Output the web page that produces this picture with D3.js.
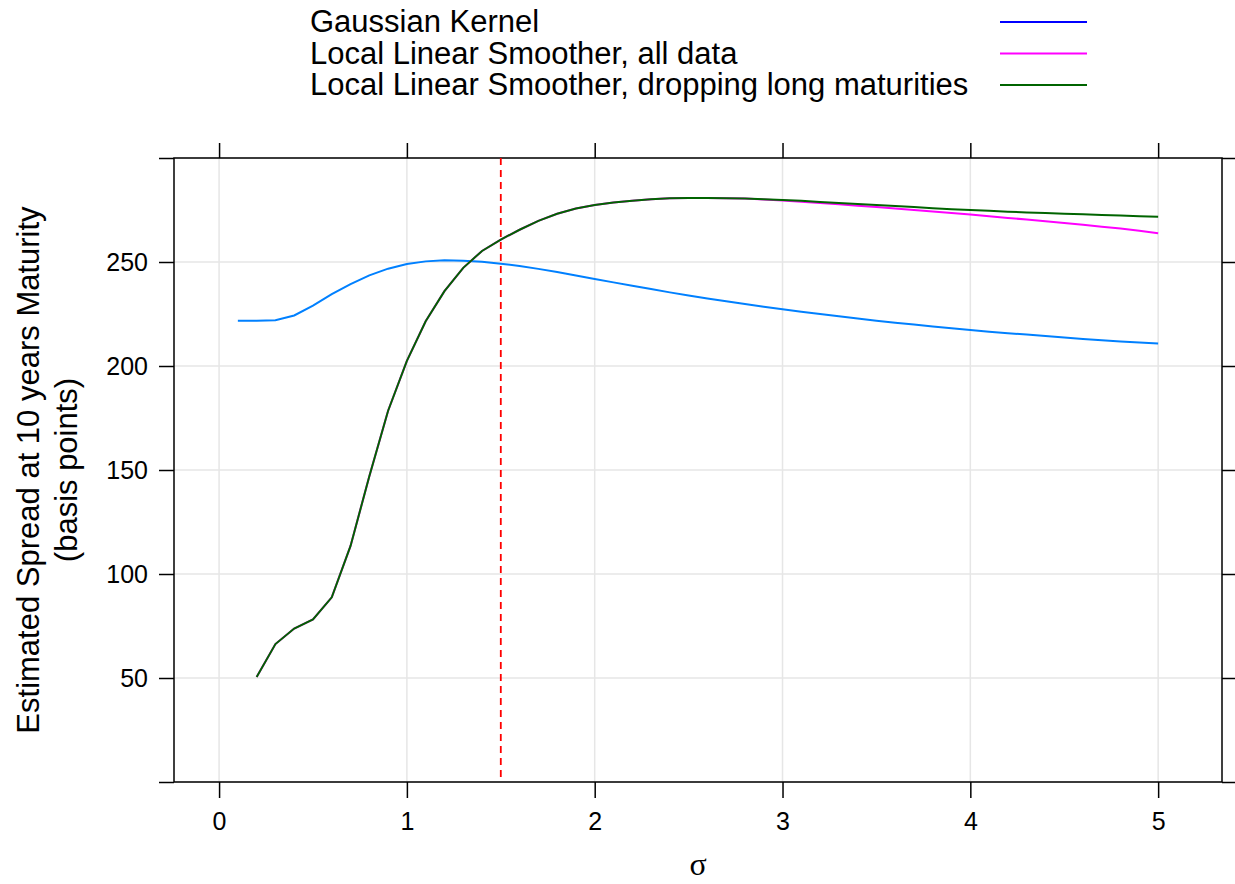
<!DOCTYPE html>
<html>
<head>
<meta charset="utf-8">
<script src="https://cdn.jsdelivr.net/npm/d3@7"></script>
<style>
  body { margin: 0; background: #fff; }
  text { font-family: "Liberation Sans", Arial, sans-serif; }
</style>
</head>
<body>
<div id="chart"></div>
<script>
// sigma grid
var sigmaGauss = d3.range(1, 51).map(d => d / 10);   // 0.1 .. 5.0
var sigmaLocal = d3.range(2, 51).map(d => d / 10);   // 0.2 .. 5.0

var gaussVals = [221.8, 221.8, 222.0, 224.3, 229.0, 234.5, 239.4, 243.6, 246.8, 249.0,
  250.3, 250.8, 250.6, 250.1, 249.2, 248.1, 246.7, 245.2, 243.5, 241.8,
  240.2, 238.6, 237.0, 235.4, 233.9, 232.5, 231.1, 229.8, 228.5, 227.3,
  226.1, 225.0, 223.9, 222.8, 221.8, 220.8, 219.9, 219.0, 218.1, 217.3,
  216.5, 215.8, 215.1, 214.4, 213.7, 213.0, 212.4, 211.8, 211.3, 210.8];

var localAllVals = [50.5, 66.3, 73.8, 78.2, 88.8, 113.5, 147.0, 178.5, 202.5,
  221.5, 236.0, 247.2, 255.3, 260.8, 265.5, 269.8, 273.2, 275.7, 277.4,
  278.6, 279.5, 280.2, 280.6, 280.8, 280.8, 280.7, 280.5, 280.1, 279.6,
  279.0, 278.4, 277.8, 277.1, 276.4, 275.7, 275.0, 274.3, 273.6, 272.8,
  272.0, 271.2, 270.4, 269.6, 268.8, 267.9, 267.0, 266.1, 265.0, 263.8];

var localDropVals = [50.5, 66.3, 73.8, 78.2, 88.8, 113.5, 147.0, 178.5, 202.5,
  221.5, 236.0, 247.2, 255.3, 260.8, 265.5, 269.8, 273.2, 275.7, 277.4,
  278.6, 279.5, 280.2, 280.6, 280.8, 280.8, 280.7, 280.5, 280.2, 279.8,
  279.4, 278.9, 278.4, 277.9, 277.4, 276.9, 276.4, 275.9, 275.4, 275.0,
  274.6, 274.2, 273.8, 273.5, 273.2, 272.9, 272.6, 272.3, 272.0, 271.8];

var seriesNames = ["Gaussian Kernel", "Local Linear Smoother, all data",
  "Local Linear Smoother, dropping long maturities"];
var xTicks = [0, 1, 2, 3, 4, 5];
var yTicks = [0, 50, 100, 150, 200, 250, 300];
var chosenSigma = 1.5;

var svgWidth = 1235;
var svgHeight = 884;

var margin = { top: 158, right: 13, bottom: 102, left: 174 };
var width = svgWidth - margin.left - margin.right;
var height = svgHeight - margin.top - margin.bottom;

var svg = d3.select("#chart")
  .append("svg")
  .attr("width", svgWidth)
  .attr("height", svgHeight);

var chartGroup = svg.append("g")
  .attr("transform", `translate(${margin.left}, ${margin.top})`);

var xLinearScale = d3.scaleLinear().domain([-0.24, 5.34]).range([0, width]);
var yLinearScale = d3.scaleLinear().domain([0, 300]).range([height, 0]);

// grid
chartGroup.append("g").selectAll("line.vg")
  .data(xTicks).enter().append("line")
  .attr("x1", d => xLinearScale(d)).attr("x2", d => xLinearScale(d))
  .attr("y1", 0).attr("y2", height)
  .attr("stroke", "#e6e6e6").attr("stroke-width", 1.5);

chartGroup.append("g").selectAll("line.hg")
  .data(yTicks).enter().append("line")
  .attr("x1", 0).attr("x2", width)
  .attr("y1", d => yLinearScale(d)).attr("y2", d => yLinearScale(d))
  .attr("stroke", "#e6e6e6").attr("stroke-width", 1.5);

// axes (ticks on all four sides, labels only bottom and left)
var fmtY = d => (d === 0 || d === 300) ? "" : d;

function styleAxis(g) {
  g.select(".domain").remove();
  g.selectAll(".tick line").attr("stroke", "#000").attr("stroke-width", 1.5);
  g.selectAll(".tick text").attr("fill", "#000").style("font-size", "25px");
}

chartGroup.append("g")
  .attr("transform", `translate(0, ${height})`)
  .call(d3.axisBottom(xLinearScale).tickValues(xTicks).tickSize(16).tickPadding(14).tickFormat(d3.format("d")))
  .call(styleAxis);

chartGroup.append("g")
  .call(d3.axisTop(xLinearScale).tickValues(xTicks).tickSize(15).tickFormat(""))
  .call(styleAxis);

chartGroup.append("g")
  .call(d3.axisLeft(yLinearScale).tickValues(yTicks).tickSize(15).tickPadding(11).tickFormat(fmtY))
  .call(styleAxis);

chartGroup.append("g")
  .attr("transform", `translate(${width}, 0)`)
  .call(d3.axisRight(yLinearScale).tickValues(yTicks).tickSize(13).tickFormat(""))
  .call(styleAxis);

// frame
chartGroup.append("rect")
  .attr("width", width).attr("height", height)
  .attr("fill", "none").attr("stroke", "#000").attr("stroke-width", 1.5);

// curves
var line = d3.line()
  .x(d => xLinearScale(d[0]))
  .y(d => yLinearScale(d[1]));

var curves = [
  { xs: sigmaGauss, ys: gaussVals, color: "#0080ff" },
  { xs: sigmaLocal, ys: localAllVals, color: "#ff00ff" },
  { xs: sigmaLocal, ys: localDropVals, color: "#006400" }
];

curves.forEach(function(c) {
  chartGroup.append("path")
    .datum(c.xs.map((x, i) => [x, c.ys[i]]))
    .attr("d", line)
    .attr("fill", "none")
    .attr("stroke", c.color)
    .attr("stroke-width", 2);
});

// chosen bandwidth
chartGroup.append("line")
  .attr("x1", xLinearScale(chosenSigma)).attr("x2", xLinearScale(chosenSigma))
  .attr("y1", 0).attr("y2", height)
  .attr("stroke", "#ff0000").attr("stroke-width", 1.8)
  .attr("stroke-dasharray", "7,5");

// axis titles
svg.append("text")
  .attr("x", margin.left + width / 2)
  .attr("y", 875)
  .attr("text-anchor", "middle")
  .style("font-family", "'Liberation Serif', serif")
  .style("font-size", "32px")
  .text("σ");

var yTitle = svg.append("text")
  .attr("transform", `translate(0, ${margin.top + height / 2}) rotate(-90)`)
  .attr("text-anchor", "middle")
  .style("font-size", "31px");
yTitle.append("tspan").attr("x", 0).attr("y", 39).text("Estimated Spread at 10 years Maturity");
yTitle.append("tspan").attr("x", 0).attr("y", 77).text("(basis points)");

// legend (colours as shown in the key)
var legendColors = ["#0000ff", "#ff00ff", "#006400"];
var legend = svg.append("g");
seriesNames.forEach(function(name, i) {
  var y = 22 + i * 31.5;
  legend.append("text")
    .attr("x", 310).attr("y", y + 10)
    .style("font-size", "31px")
    .text(name);
  legend.append("line")
    .attr("x1", 1000).attr("x2", 1087)
    .attr("y1", y).attr("y2", y)
    .attr("stroke", legendColors[i]).attr("stroke-width", 2);
});
</script>
</body>
</html>
